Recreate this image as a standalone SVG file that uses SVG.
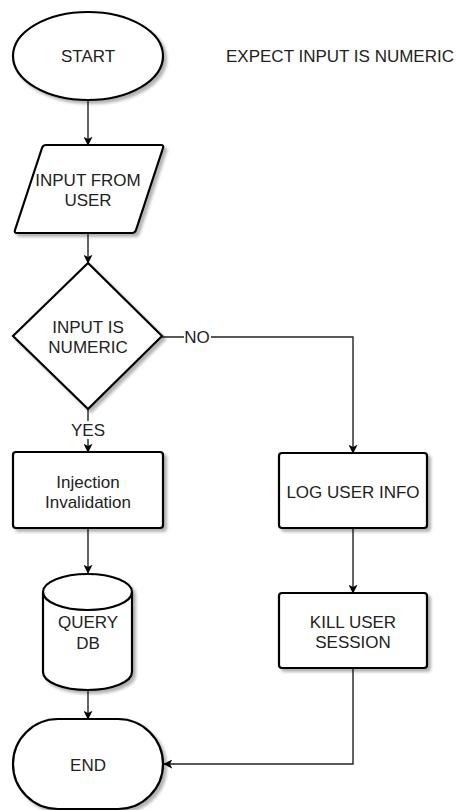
<svg xmlns="http://www.w3.org/2000/svg" width="462" height="810" viewBox="0 0 462 810">
<style>
.shape{fill:#fff;stroke:#000;stroke-width:2.2;filter:url(#sh)}
.t{font-family:"Liberation Sans",Arial,sans-serif;font-size:17px;fill:#222;text-anchor:middle}
.c{fill:none;stroke:#222;stroke-width:1.4}
</style>
<defs>
<filter id="sh" x="-10%" y="-10%" width="130%" height="130%">
<feGaussianBlur in="SourceAlpha" stdDeviation="1.5"/>
<feOffset dx="3" dy="3" result="b"/>
<feComponentTransfer><feFuncA type="linear" slope="0.3"/></feComponentTransfer>
<feMerge><feMergeNode/><feMergeNode in="SourceGraphic"/></feMerge>
</filter>
<marker id="ah" viewBox="0 0 12 12" refX="11" refY="6" markerWidth="9" markerHeight="9" markerUnits="userSpaceOnUse" orient="auto">
<path d="M0,0 L12,6 L0,12 L3,6 Z" fill="#000"/>
</marker>
</defs>
<g id="connectors">
<path class="c" d="M88,100 V145" marker-end="url(#ah)"/>
<path class="c" d="M88,233 V263" marker-end="url(#ah)"/>
<path class="c" d="M88,409 V452" marker-end="url(#ah)"/>
<path class="c" d="M88,528 V573" marker-end="url(#ah)"/>
<path class="c" d="M88,690 V719" marker-end="url(#ah)"/>
<path class="c" d="M162,337 H353 V453" marker-end="url(#ah)"/>
<path class="c" d="M353,528 V593" marker-end="url(#ah)"/>
<path class="c" d="M353,668 V764 H164" marker-end="url(#ah)"/>
<rect x="184" y="328" width="27" height="18" fill="#fff"/>
<text class="t" x="197" y="343">NO</text>
<rect x="70" y="421" width="36" height="18" fill="#fff"/>
<text class="t" x="88" y="436">YES</text>
</g>
<g id="start">
<ellipse class="shape" cx="88" cy="56" rx="75" ry="44"/>
<text class="t" x="88" y="62">START</text>
</g>
<g id="note">
<text class="t" x="340" y="62">EXPECT INPUT IS NUMERIC</text>
</g>
<g id="input">
<path class="shape" d="M46,145 H161 Q164,145 163,148 L136,230 Q135,233 132,233 H17 Q14,233 15,230 L42,148 Q43,145 46,145 Z"/>
<text class="t" x="88" y="186">INPUT FROM</text>
<text class="t" x="88" y="206">USER</text>
</g>
<g id="decision">
<path class="shape" d="M88,263 L162,336 L88,409 L13,336 Z"/>
<text class="t" x="88" y="333">INPUT IS</text>
<text class="t" x="88" y="353">NUMERIC</text>
</g>
<g id="injection">
<rect class="shape" x="13" y="452" width="150" height="76" rx="3"/>
<text class="t" x="88" y="488">Injection</text>
<text class="t" x="88" y="508">Invalidation</text>
</g>
<g id="query">
<path class="shape" d="M43,592 A44.5,18 0 0 1 132,592 V672 A44.5,18 0 0 1 43,672 Z"/>
<path d="M43,592 A44.5,18 0 0 0 132,592" fill="none" stroke="#000" stroke-width="2.2"/>
<text class="t" x="88" y="628">QUERY</text>
<text class="t" x="88" y="649">DB</text>
</g>
<g id="end">
<rect class="shape" x="13" y="719" width="150" height="90" rx="45"/>
<text class="t" x="88" y="771">END</text>
</g>
<g id="log">
<rect class="shape" x="279" y="453" width="148" height="75" rx="3"/>
<text class="t" x="353" y="498">LOG USER INFO</text>
</g>
<g id="kill">
<rect class="shape" x="279" y="593" width="148" height="75" rx="3"/>
<text class="t" x="353" y="628">KILL USER</text>
<text class="t" x="353" y="648">SESSION</text>
</g>
</svg>
